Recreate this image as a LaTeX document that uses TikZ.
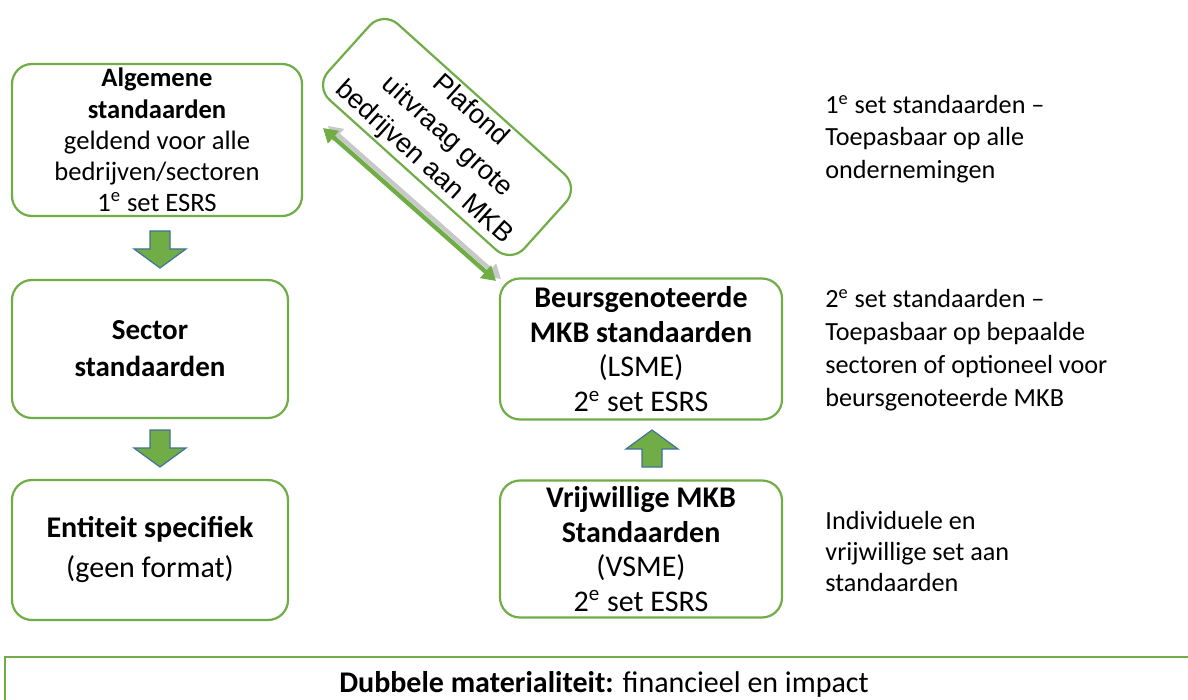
\documentclass[tikz,border=0pt]{standalone}
\usepackage{fontspec}
\setmainfont{Carlito}
\newfontfamily\rotfont{Liberation Sans}
\usetikzlibrary{arrows.meta,calc}
\definecolor{grn}{HTML}{70AD47}
\definecolor{blu}{HTML}{41719C}
\definecolor{shd}{HTML}{C8C8C8}
\begin{document}
\begin{tikzpicture}[x=0.5pt,y=-0.5pt,
  box/.style={draw=grn, line width=1.1pt, rounded corners=10pt, fill=white, align=center, inner sep=0pt},
  blockarrow/.style={fill=grn, draw=blu, line width=0.6pt, line join=miter},
  sidetext/.style={anchor=west, align=left, inner sep=0pt, font=\fontsize{13.1pt}{16.4pt}\selectfont},
  dblarrow/.style={draw=grn, line width=2.2pt, {Triangle[length=7pt,width=8pt]}-{Triangle[length=7pt,width=8pt]}},
  dblshadow/.style={draw=shd, line width=2.2pt, {Triangle[length=7pt,width=8pt]}-{Triangle[length=7pt,width=8pt]}}
]
\useasboundingbox (0,0) rectangle (1188,700);
\clip (0,0) rectangle (1188,700);
\fill[white] (0,0) rectangle (1188,700);

% left column
\node[box, minimum width=145pt, minimum height=76pt, font=\fontsize{13.3pt}{15.6pt}\selectfont] (alg) at (157,140)
  {\textbf{Algemene}\\\textbf{standaarden}\\geldend voor alle\\bedrijven/sectoren\\1\textsuperscript{e} set ESRS};
\node[box, minimum width=138pt, minimum height=69pt, font=\fontsize{14.5pt}{18.5pt}\selectfont\bfseries] (sec) at (150,349)
  {Sector\\standaarden};
\node[box, minimum width=138pt, minimum height=70pt, font=\fontsize{15pt}{20pt}\selectfont] (ent) at (150,550)
  {\textbf{Entiteit specifiek}\\(geen format)};

% right column
\node[box, minimum width=141pt, minimum height=70.5pt, font=\fontsize{15pt}{17.4pt}\selectfont] (lsme) at (641,349)
  {\textbf{Beursgenoteerde}\\\textbf{MKB standaarden}\\(LSME)\\2\textsuperscript{e} set ESRS};
\node[box, minimum width=141pt, minimum height=68.5pt, font=\fontsize{15pt}{17.3pt}\selectfont] (vsme) at (641,549)
  {\textbf{Vrijwillige MKB}\\\textbf{Standaarden}\\(VSME)\\2\textsuperscript{e} set ESRS};

% rotated box
\node[box, rotate=-42, minimum width=132pt, minimum height=51pt, font=\rotfont\fontsize{13.5pt}{17.5pt}\selectfont] (pl) at (447,137)
  {Plafond\\uitvraag grote\\bedrijven aan MKB};

% block arrows
\draw[blockarrow, shift={(160,231)}] (-10,0) -- (10,0) -- (10,18) -- (26,18) -- (0,37) -- (-26,18) -- (-10,18) -- cycle;
\draw[blockarrow, shift={(160,430)}] (-10,0) -- (10,0) -- (10,18) -- (26,18) -- (0,37) -- (-26,18) -- (-10,18) -- cycle;
\draw[blockarrow, shift={(652,467)}] (-10,0) -- (10,0) -- (10,-18) -- (26,-18) -- (0,-37) -- (-26,-18) -- (-10,-18) -- cycle;

% double arrow
\coordinate (da1) at (323,128);
\coordinate (da2) at (496,281);
\draw[dblshadow] ([shift={(5,-2)}]da1) -- ([shift={(5,-2)}]da2);
\draw[dblarrow] (da1) -- (da2);

% side texts
\node[sidetext] (t1) at (825,139) {1\textsuperscript{e} set standaarden --\\Toepasbaar op alle\\ondernemingen};
\node[sidetext] (t2) at (825,350) {2\textsuperscript{e} set standaarden --\\Toepasbaar op bepaalde\\sectoren of optioneel voor\\beursgenoteerde MKB};
\node[sidetext, font=\fontsize{13.1pt}{15.5pt}\selectfont] (t3) at (825,551) {Individuele en\\vrijwillige set aan\\standaarden};

% bottom box
\node[draw=grn, line width=1.1pt, anchor=north, minimum width=599pt, inner sep=0pt, text height=17.8pt, text depth=20pt, font=\fontsize{15pt}{18pt}\selectfont] (dm) at (604,656)
  {\textbf{Dubbele materialiteit:} financieel en impact};
\end{tikzpicture}
\end{document}
